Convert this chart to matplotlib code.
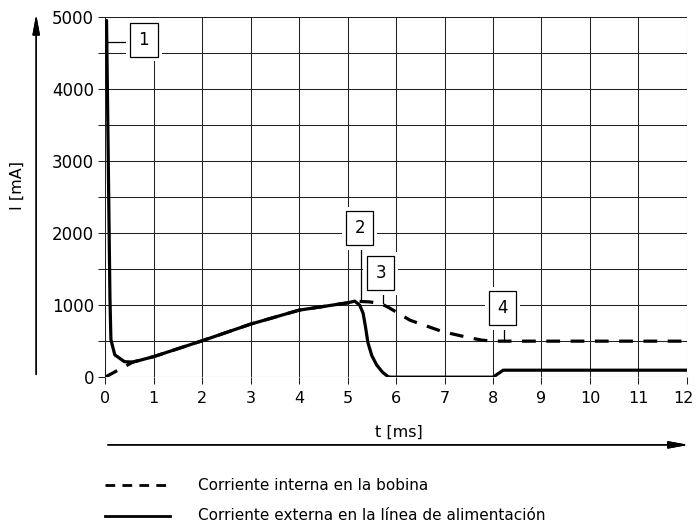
import matplotlib
matplotlib.use("Agg")
import matplotlib.pyplot as plt
import matplotlib.transforms as mtransforms
from matplotlib.ticker import MultipleLocator
from matplotlib.lines import Line2D

plt.rcParams['font.family'] = ['DejaVu Sans']

# Corriente externa (linea continua)
t_ext = [0.03, 0.1, 0.12, 0.2, 0.4, 0.58, 1.0, 2.0, 3.0, 4.0, 5.0, 5.15,
         5.25, 5.32, 5.37, 5.42, 5.50, 5.60, 5.72, 5.84, 5.9, 8.0, 8.21, 12.0]
i_ext = [4950, 1100, 520, 310, 215, 210, 285, 505, 736, 930, 1032, 1055,
         1000, 890, 700, 480, 300, 170, 70, 5, 0, 0, 97, 97]

# Corriente interna (linea discontinua)
t_int = [0.0, 0.58, 1.0, 2.0, 3.0, 4.0, 5.0, 5.15, 5.45, 5.67, 5.84, 6.29,
         6.97, 7.46, 7.77, 8.0, 12.0]
i_int = [0, 212, 285, 505, 736, 930, 1032, 1055, 1045, 1025, 970, 790,
         630, 555, 514, 500, 500]

# Marcas numeradas: (texto, x caja, y caja, x guia, y guia)
marcas = [("1", 0.8, 4680, 0.05, 4650, 'h'),
          ("2", 5.25, 2070, 5.28, 1060, 'v'),
          ("3", 5.68, 1444, 5.73, 1030, 'v'),
          ("4", 8.2, 960, 8.23, 500, 'v')]

x_ticks = list(range(0, 13))
y_ticks = [0, 1000, 2000, 3000, 4000, 5000]

leyenda = ["Corriente interna en la bobina",
           "Corriente externa en la línea de alimentación"]

fig = plt.figure(figsize=(6.96, 5.29), dpi=100)
ax = fig.add_axes([0.151, 0.287, 0.836, 0.681])

grid_c = '#222222'
ax.set_xlim(0, 12)
ax.set_ylim(0, 5000)
ax.set_xticks(x_ticks)
ax.set_yticks(y_ticks)
ax.yaxis.set_minor_locator(MultipleLocator(500))
ax.grid(True, which='both', color=grid_c, linewidth=0.75)
ax.tick_params(which='both', direction='out', length=5, width=0.75,
               color=grid_c, labelsize=12, pad=3)
ax.tick_params(axis='x', pad=5, labelsize=11.5)
for s in ax.spines.values():
    s.set_visible(False)

# el ultimo rotulo del eje x se corre un poco para que no quede cortado
ultimo = ax.get_xticklabels()[-1]
ultimo.set_transform(ultimo.get_transform() +
                     mtransforms.ScaledTranslation(-4 / 100, 0, fig.dpi_scale_trans))

ax.plot(t_ext, i_ext, color='black', lw=2.3, solid_capstyle='round', zorder=3)
ax.plot(t_int, i_int, color='black', lw=2.3, dashes=(4.3, 3.3), zorder=3)

for txt, bx, by, lx, ly, kind in marcas:
    if kind == 'h':
        ax.plot([lx, bx], [ly, ly], color='black', lw=0.9, zorder=4)
    else:
        ax.plot([lx, lx], [ly, by], color='black', lw=0.9, zorder=4)
    ax.text(bx, by, txt, ha='center', va='center', fontsize=12, color='none',
            bbox=dict(boxstyle='square,pad=0.75', fc='white', ec='none'), zorder=5)
    ax.text(bx, by, txt, ha='center', va='center', fontsize=12,
            bbox=dict(boxstyle='square,pad=0.5', fc='white', ec='black', lw=0.9), zorder=6)

# Flechas de los ejes
fig.add_artist(plt.annotate('', xy=(0.052, 0.978), xytext=(0.052, 0.287),
                            xycoords='figure fraction',
                            arrowprops=dict(arrowstyle='-|>,head_length=1.2,head_width=0.22',
                                            color='black', lw=1)))
fig.add_artist(plt.annotate('', xy=(0.993, 0.159), xytext=(0.151, 0.159),
                            xycoords='figure fraction',
                            arrowprops=dict(arrowstyle='-|>,head_length=1.2,head_width=0.22',
                                            color='black', lw=1)))
fig.text(0.025, 0.65, "I [mA]", rotation=90, ha='center', va='center', fontsize=11.5)
fig.text(0.573, 0.183, "t [ms]", ha='center', va='center', fontsize=11.5)

# Leyenda
fig.add_artist(Line2D([0.151, 0.244], [0.083, 0.083], color='black', lw=2,
                      dashes=(3.5, 2.6)))
fig.add_artist(Line2D([0.151, 0.244], [0.025, 0.025], color='black', lw=2))
fig.text(0.284, 0.083, leyenda[0], va='center', fontsize=11)
fig.text(0.284, 0.025, leyenda[1], va='center', fontsize=11)

fig.savefig("out.png", dpi=100)
